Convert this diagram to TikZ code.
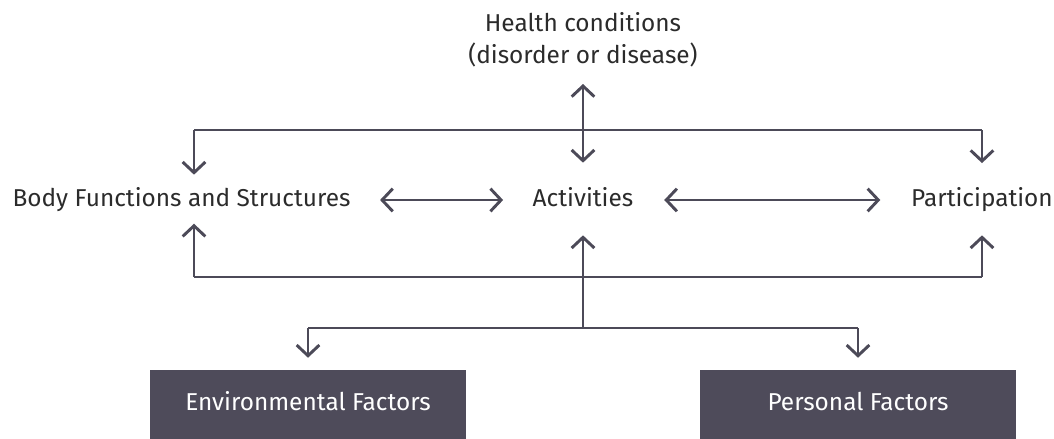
\documentclass[tikz,border=0pt]{standalone}
\usepackage{fontspec}
\setmainfont{Fira Sans}
\usetikzlibrary{arrows.meta}
\definecolor{linecol}{HTML}{4C4A58}
\definecolor{boxcol}{HTML}{4E4B5A}
\definecolor{txtcol}{HTML}{2B2B2B}

\begin{document}
\begin{tikzpicture}[x=0.75pt, y=-0.75pt,
    lbl/.style={inner sep=0, text=txtcol, font=\fontsize{18.3}{23.5}\selectfont, text height=13pt, text depth=4pt},
    factor/.style={fill=boxcol, text=white, inner sep=0, font=\fontsize{18.3}{23.5}\selectfont,
        minimum width=237pt, minimum height=51.75pt, text height=13pt, text depth=4pt},
    conn/.style={draw=linecol, line width=2.2pt},
    >={Straight Barb[length=8pt, width=17pt]}]
    \useasboundingbox (0,0) rectangle (1054,439);
    % nodes
    \node[inner sep=0, text=txtcol, font=\fontsize{18.3}{23.5}\selectfont, align=center, anchor=south] (health) at (583,67) {Health conditions\\(disorder or disease)};
    \node[lbl] (body) at (181.5,200) {Body Functions and Structures};
    \node[lbl] (activities) at (583,200) {Activities};
    \node[lbl] (participation) at (982,200) {Participation};
    \node[factor] (env) at (308,404.5) {Environmental Factors};
    \node[factor] (personal) at (858,404.5) {Personal Factors};
    % buses
    \coordinate (topL) at (194,130);
    \coordinate (topR) at (982,130);
    \coordinate (botL) at (194,277);
    \coordinate (botR) at (982,277);
    \coordinate (hubC) at (583,328);
    \coordinate (hubL) at (308,328);
    \coordinate (hubR) at (858,328);
    \draw[conn] (topL) -- (topR);
    \draw[conn] (botL) -- (botR);
    \draw[conn] (hubL) -- (hubR);
    % arrows
    \draw[conn, <->, shorten <=12.75pt, shorten >=19.3pt] (health) -- (activities);
    \draw[conn, ->, shorten >=19pt] (topL) -- (topL |- body.center);
    \draw[conn, ->, shorten >=19pt] (topR) -- (participation);
    \draw[conn, ->, shorten >=17.8pt] (botL) -- (botL |- body.center);
    \draw[conn, ->, shorten >=17.8pt] (botR) -- (participation);
    \draw[conn, ->, shorten >=17.8pt] (hubC) -- (activities);
    \draw[conn, ->, shorten >=9pt] (hubL) -- (env);
    \draw[conn, ->, shorten >=9pt] (hubR) -- (personal);
    \draw[conn, <->, shorten <=22pt, shorten >=22pt] (body) -- (activities);
    \draw[conn, <->, shorten <=23pt, shorten >=23pt] (activities) -- (participation);
\end{tikzpicture}
\end{document}
